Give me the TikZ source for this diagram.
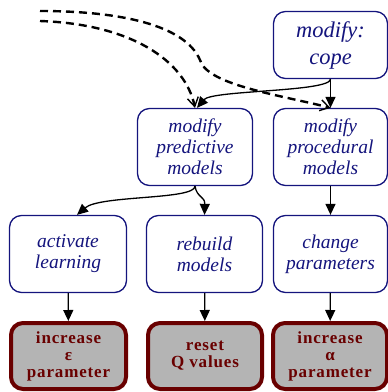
\documentclass[tikz,border=0pt]{standalone}
\usepackage{fontspec}
\setmainfont{Liberation Serif}
\newfontfamily\spaced[LetterSpace=5]{Liberation Serif}
\usetikzlibrary{arrows.meta}
\definecolor{navytxt}{RGB}{20,20,125}
\definecolor{darkred}{RGB}{105,0,0}
\definecolor{boxgray}{RGB}{180,180,180}
\tikzset{
  blk/.style={draw=navytxt, line width=1.3pt, rounded corners=12pt, fill=white,
    text=navytxt, font=\fontsize{19.5}{21}\selectfont\itshape, align=center,
    minimum width=114pt, minimum height=77pt, inner sep=0pt},
  actn/.style={draw=darkred, line width=4pt, rounded corners=12pt, fill=boxgray,
    text=darkred, font=\spaced\fontsize{17}{17}\selectfont\bfseries, align=center,
    minimum width=114pt, minimum height=66pt, inner sep=0pt},
  solidarr/.style={line width=1.3pt, -{Triangle[length=11pt,width=10pt]}},
  dasharr/.style={line width=2.4pt, dash pattern=on 8pt off 5pt, -{Straight Barb[length=9pt,width=11pt,line width=1.4pt]}}
}
\begin{document}
\begin{tikzpicture}[x=1pt,y=-1pt]
\useasboundingbox (0,0) rectangle (388,392);
\node[blk, minimum height=67pt, font=\fontsize{22.5}{27}\selectfont\itshape] (cope) at (330.5,45) {modify:\\cope};
\node[blk, minimum width=115pt] (pred) at (195,147) {modify\\predictive\\models};
\node[blk] (proc) at (330.5,147) {modify\\procedural\\models};
\node[blk, minimum width=117pt] (act) at (68,254) {activate\\learning};
\node[blk, minimum width=116pt] (reb) at (204.5,254) {rebuild\\models};
\node[blk] (chg) at (330.5,254) {change\\parameters};
\node[actn, minimum width=115pt] (b1) at (68.5,356) {increase\\ε\\parameter};
\node[actn] (b2) at (205,356) {reset\\Q values};
\node[actn] (b3) at (330,356) {increase\\α\\parameter};
\coordinate (d1) at (40,11);
\coordinate (d2) at (40,21);
\draw[dasharr] (d1) .. controls (120,11) and (185,25) .. (200,60)
  .. controls (207,85) and (280,95) .. (proc.north);
\draw[dasharr] (d2) .. controls (130,24) and (185,60) .. (pred.north);
\draw[solidarr] (cope) -- (proc);
\draw[solidarr] (cope.south) .. controls (330,92) and (212,90) .. ([xshift=2pt]pred.north);
\draw[solidarr] (pred.south) .. controls (195,200) and (100,195) .. ([xshift=9pt]act.north);
\draw[solidarr] (pred.south) .. controls (197,198) and (205,196) .. (reb.north);
\draw[solidarr] (proc) -- (chg);
\draw[solidarr] (act) -- (b1);
\draw[solidarr] (reb) -- (b2);
\draw[solidarr] (chg) -- (b3);
\end{tikzpicture}
\end{document}
